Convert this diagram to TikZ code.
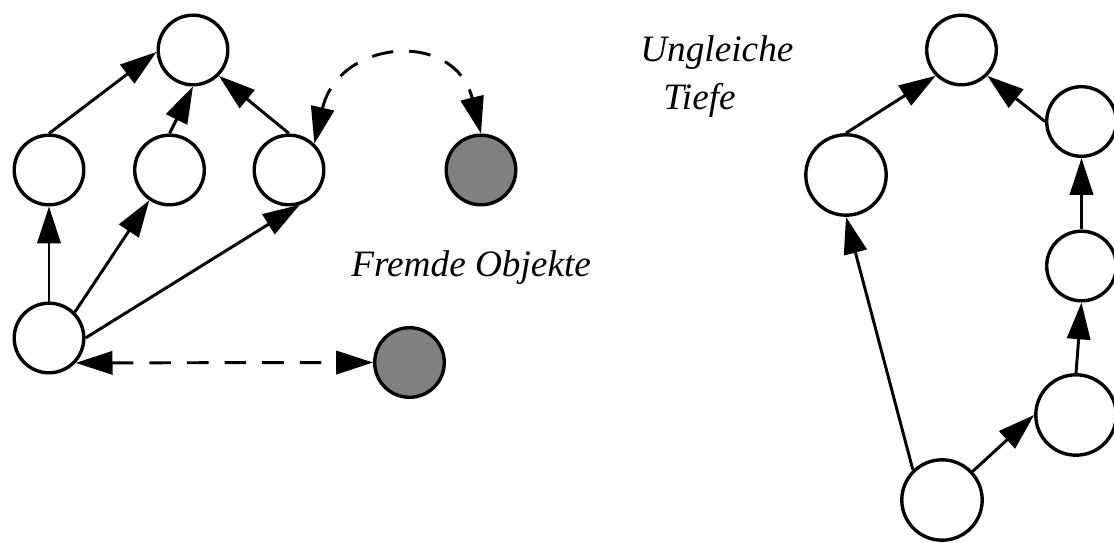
\documentclass[tikz,border=0pt]{standalone}
\usepackage{fontspec}
\setmainfont{Liberation Serif}
\usepackage{tikz}
\usetikzlibrary{arrows.meta}
\definecolor{ForeignGray}{HTML}{808080}

\begin{document}
\begin{tikzpicture}[
  x=0.025cm, y=-0.025cm,
  obj/.style={circle, draw=black, fill=white, line width=2.4pt, minimum size=1.74cm, inner sep=0pt},
  big/.style={obj, minimum size=2.01cm},
  foreign/.style={obj, fill=ForeignGray},
  txt/.style={font=\fontsize{26.5}{34}\selectfont\itshape, anchor=base west, inner sep=0pt},
  arrow/.style={-{Triangle[length=9.2mm, width=5.8mm]}, line width=2.1pt},
  link/.style={{Triangle[length=9.2mm, width=5.8mm]}-{Triangle[length=9.2mm, width=5.8mm]}, line width=2.1pt, dash pattern=on 5.4mm off 4mm}
]
\useasboundingbox (0,0) rectangle (1114,543);

% left group
\node[obj] (top) at (193,50) {};
\node[obj] (left) at (49,170) {};
\node[obj] (mid) at (169.5,170) {};
\node[obj] (right) at (289,170) {};
\node[obj] (root) at (49,338) {};
\node[foreign] (far) at (481,170) {};
\node[foreign] (near) at (409.5,362.5) {};

% right group
\node[obj] (peak) at (961.5,50) {};
\node[big] (side) at (846,175) {};
\node[obj] (c1) at (1081.5,121.5) {};
\node[obj] (c2) at (1081.5,266) {};
\node[big] (c3) at (1076,415) {};
\node[big] (base) at (942,500) {};

\node[txt] (fremd) at (351,277) {Fremde Objekte};
\node[txt] (ungleich) at (640,62) {Ungleiche};
\node[txt] (tiefe) at (663,110) {Tiefe};

\draw[arrow] (left.north) -- (top.183);
\draw[arrow] (mid.north) -- (top.south);
\draw[arrow] (right.north) -- (top.-45);
\draw[arrow] (root.north) -- (left.south);
\draw[arrow] (root.45) -- (mid);
\draw[arrow] (root.east) -- (right.-73);
\draw[link] (right.46) to[out=77, in=104, looseness=1.65] (far.north);
\draw[link] (root.-43) -- (near.west);

\draw[arrow] (side.north) -- (peak.225);
\draw[arrow] (c1.west) -- (peak.-45);
\draw[arrow] (c2.north) -- (c1.south);
\draw[arrow] (c3.north) -- (c2.south);
\draw[arrow] (base.43) -- (c3.west);
\draw[arrow] (base.134) -- (side.south);
\end{tikzpicture}
\end{document}
